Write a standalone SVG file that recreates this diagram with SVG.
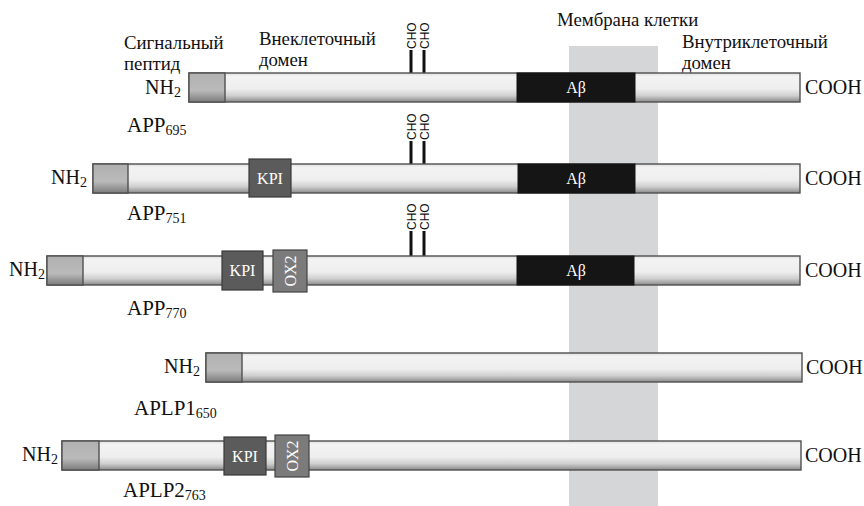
<svg xmlns="http://www.w3.org/2000/svg" width="864" height="506" viewBox="0 0 864 506">
  <defs>
    <linearGradient id="gBar" x1="0" y1="0" x2="0" y2="1">
      <stop offset="0" stop-color="#dedede"/>
      <stop offset="0.12" stop-color="#f3f3f3"/>
      <stop offset="0.55" stop-color="#eeeeee"/>
      <stop offset="0.78" stop-color="#cfcfcf"/>
      <stop offset="1" stop-color="#8a8a8a"/>
    </linearGradient>
    <linearGradient id="gSig" x1="0" y1="0" x2="0" y2="1">
      <stop offset="0" stop-color="#b0b0b0"/>
      <stop offset="0.6" stop-color="#bababa"/>
      <stop offset="1" stop-color="#7c7c7c"/>
    </linearGradient>
  </defs>
  <style>
    text { font-family: "Liberation Serif", "Times New Roman", serif; fill: #111111; }
    .lbl { font-size: 18.8px; }
    .term { font-size: 20px; }
    .name { font-size: 21px; }
    .sub { font-size: 14px; }
    .sub2 { font-size: 14px; }
    .cho { font-family: "Liberation Sans", Arial, sans-serif; font-size: 12px; }
    .bar { fill: url(#gBar); stroke: #505050; stroke-width: 1.4; }
    .sig { fill: url(#gSig); stroke: #505050; stroke-width: 1.4; }
    .ab { fill: #151515; stroke: #151515; stroke-width: 1; }
    .kpi { fill: #5b5b5b; stroke: #3a3a3a; stroke-width: 1.2; }
    .ox2 { fill: #7b7b7b; stroke: #444444; stroke-width: 1.2; }
    .wt { fill: #ffffff; font-size: 16px; text-anchor: middle; }
    .cl { stroke: #111111; stroke-width: 3; }
  </style>

  <rect width="864" height="506" fill="#ffffff"/>

  <!-- cell membrane band -->
  <g id="membrane">
    <rect x="569" y="46" width="89" height="460" fill="#d5d6d8"/>
    <text class="lbl" x="557" y="26">Мембрана клетки</text>
  </g>

  <!-- region labels -->
  <g id="labels">
    <text class="lbl" x="124" y="49">Сигнальный</text>
    <text class="lbl" x="124" y="70">пептид</text>
    <text class="lbl" x="259" y="45">Внеклеточный</text>
    <text class="lbl" x="259" y="66">домен</text>
    <text class="lbl" x="682" y="48">Внутриклеточный</text>
    <text class="lbl" x="682" y="69">домен</text>
  </g>

  <!-- glycosylation sites -->
  <g id="connectors">
    <line class="cl" x1="411" y1="50" x2="411" y2="73"/>
    <line class="cl" x1="424" y1="50" x2="424" y2="73"/>
    <line class="cl" x1="411" y1="141" x2="411" y2="164"/>
    <line class="cl" x1="424" y1="141" x2="424" y2="164"/>
    <line class="cl" x1="411" y1="231" x2="411" y2="256"/>
    <line class="cl" x1="424" y1="231" x2="424" y2="256"/>
  </g>
  <g id="cho">
    <text class="cho" transform="translate(415.5,49) rotate(-90)">CHO</text>
    <text class="cho" transform="translate(428.5,49) rotate(-90)">CHO</text>
    <text class="cho" transform="translate(415.5,140) rotate(-90)">CHO</text>
    <text class="cho" transform="translate(428.5,140) rotate(-90)">CHO</text>
    <text class="cho" transform="translate(415.5,230) rotate(-90)">CHO</text>
    <text class="cho" transform="translate(428.5,230) rotate(-90)">CHO</text>
  </g>

  <!-- APP695 -->
  <g id="app695">
    <rect class="bar" x="189" y="73" width="611" height="29"/>
    <rect class="sig" x="189" y="73" width="36" height="29"/>
    <rect class="ab" x="517" y="73" width="118" height="29"/>
    <text class="wt" x="576" y="93" font-size="17">Aβ</text>
    <text class="term" x="181" y="94" text-anchor="end">NH<tspan class="sub2" dy="3">2</tspan></text>
    <text class="term" x="805" y="94">COOH</text>
    <text class="name" x="127" y="132">APP<tspan class="sub" dy="3">695</tspan></text>
  </g>

  <!-- APP751 -->
  <g id="app751">
    <rect class="bar" x="93" y="164" width="707" height="29"/>
    <rect class="sig" x="93" y="164" width="35" height="29"/>
    <rect class="kpi" x="249" y="159" width="42" height="38"/>
    <text class="wt" x="270" y="184">KPI</text>
    <rect class="ab" x="518" y="164" width="117" height="29"/>
    <text class="wt" x="576" y="184" font-size="17">Aβ</text>
    <text class="term" x="87" y="184" text-anchor="end">NH<tspan class="sub2" dy="3">2</tspan></text>
    <text class="term" x="805" y="185">COOH</text>
    <text class="name" x="127" y="220">APP<tspan class="sub" dy="3">751</tspan></text>
  </g>

  <!-- APP770 -->
  <g id="app770">
    <rect class="bar" x="47" y="256" width="753" height="29"/>
    <rect class="sig" x="47" y="256" width="36" height="29"/>
    <rect class="kpi" x="222" y="251" width="41" height="39"/>
    <text class="wt" x="242.5" y="276">KPI</text>
    <rect class="ox2" x="273" y="250" width="34" height="42"/>
    <text class="wt" transform="translate(295.5,271) rotate(-90)">OX2</text>
    <rect class="ab" x="517" y="256" width="117" height="29"/>
    <text class="wt" x="576" y="276" font-size="17">Aβ</text>
    <text class="term" x="45" y="276" text-anchor="end">NH<tspan class="sub2" dy="3">2</tspan></text>
    <text class="term" x="805" y="277">COOH</text>
    <text class="name" x="127" y="315">APP<tspan class="sub" dy="3">770</tspan></text>
  </g>

  <!-- APLP1 -->
  <g id="aplp1">
    <rect class="bar" x="206" y="353" width="596" height="29"/>
    <rect class="sig" x="206" y="353" width="36" height="29"/>
    <text class="term" x="200" y="373" text-anchor="end">NH<tspan class="sub2" dy="3">2</tspan></text>
    <text class="term" x="806" y="374">COOH</text>
    <text class="name" x="134" y="415">APLP1<tspan class="sub" dy="3">650</tspan></text>
  </g>

  <!-- APLP2 -->
  <g id="aplp2">
    <rect class="bar" x="62" y="441" width="739" height="29"/>
    <rect class="sig" x="62" y="441" width="37" height="29"/>
    <rect class="kpi" x="224" y="437" width="42" height="38"/>
    <text class="wt" x="245" y="462">KPI</text>
    <rect class="ox2" x="275" y="435" width="34" height="42"/>
    <text class="wt" transform="translate(297.5,456) rotate(-90)">OX2</text>
    <text class="term" x="58" y="461" text-anchor="end">NH<tspan class="sub2" dy="3">2</tspan></text>
    <text class="term" x="805" y="462">COOH</text>
    <text class="name" x="123" y="497">APLP2<tspan class="sub" dy="3">763</tspan></text>
  </g>
</svg>
